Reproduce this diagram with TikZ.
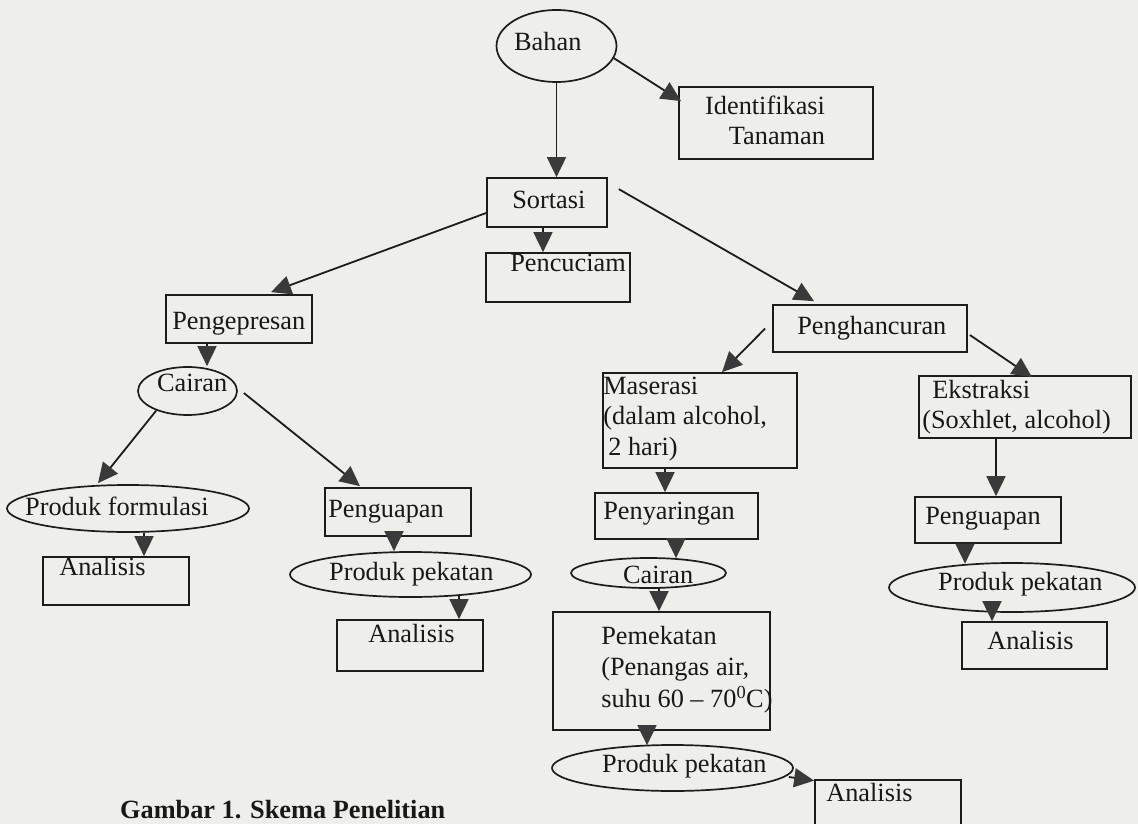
\documentclass[tikz,border=0pt]{standalone}
\usepackage{fontspec}
\setmainfont{Liberation Serif}
\usetikzlibrary{shapes.geometric,arrows.meta,calc}
\definecolor{bg}{RGB}{238,238,235}
\definecolor{linec}{RGB}{28,28,28}
\definecolor{txtc}{RGB}{24,24,24}
\definecolor{headc}{RGB}{58,58,58}
\newcommand\mf{\fontsize{26.3pt}{30.5pt}\selectfont}
\begin{document}
\begin{tikzpicture}[x=1pt,y=-1pt,
  bx/.style={draw=linec, line width=1.7pt, rectangle, inner sep=0pt},
  el/.style={draw=linec, line width=1.7pt, ellipse, inner sep=0pt},
  tx/.style={font=\mf, text=txtc, inner sep=0pt, anchor=base west},
  tl/.style args={#1/#2/#3}{label={[tx,xshift=#1pt,yshift={-(#2)*1pt}]north west:{#3}}},
  cl/.style args={#1/#2/#3}{label={[tx,xshift=#1pt,yshift={-(#2)*1pt}]south:{#3}}},
  arr/.style={draw=linec, line width=1.8pt, -{Triangle[length=20pt,width=19pt,color=headc]}}
]
\useasboundingbox (0,0) rectangle (1138,824);
\clip (0,0) rectangle (1138,824);
\fill[bg] (0,0) rectangle (1138,824);

% top
\node[el, minimum width=120pt, minimum height=72pt, cl={-42.5/-32/Bahan}] (bahan) at (556.5,46) {};
\node[bx, minimum width=194pt, minimum height=72pt,
  label={[tx,anchor=base east,xshift=147pt,yshift=-28pt]north west:{\parbox[t]{200pt}{\raggedleft Identifikasi\\Tanaman}}}] (ident) at (776,123) {};
\node[bx, minimum width=120pt, minimum height=49pt, tl={26/31/Sortasi}] (sortasi) at (547,202.5) {};
\node[bx, minimum width=144pt, minimum height=49pt, tl={25/19/Pencuciam}] (pencuciam) at (558,277.5) {};

% left branch
\node[bx, minimum width=146pt, minimum height=48pt, tl={7/35/Pengepresan}] (pengep) at (239,319) {};
\node[el, minimum width=99pt, minimum height=48pt, cl={-30.5/-24/Cairan}] (cairanA) at (187.5,391) {};
\node[el, minimum width=242pt, minimum height=47pt, cl={-103/-17/Produk formulasi}] (pf) at (128,508.5) {};
\node[bx, minimum width=146pt, minimum height=48pt, tl={17/19/Analisis}] (anal1) at (116,581) {};
\node[bx, minimum width=146pt, minimum height=48pt, tl={4/30/Penguapan}] (peng1) at (398,512) {};
\node[el, minimum width=241pt, minimum height=45pt, cl={-81.5/-17/Produk pekatan}] (pp1) at (410.5,574.5) {};
\node[bx, minimum width=146pt, minimum height=51pt, tl={32/23/Analisis}] (anal2) at (410,645.5) {};

% right branch
\node[bx, minimum width=194pt, minimum height=47pt, tl={25/30/Penghancuran}] (penghanc) at (870,328.5) {};
\node[bx, minimum width=194pt, minimum height=95pt,
  tl={1/22/{\parbox[t]{200pt}{\raggedright Maserasi\\(dalam alcohol,\\\hspace*{5pt}2 hari)}}}] (maserasi) at (700,420.5) {};
\node[bx, minimum width=163pt, minimum height=46pt, tl={9/27/Penyaringan}] (penyaring) at (676.5,516) {};
\node[el, minimum width=155pt, minimum height=30pt, cl={-25.5/-5/Cairan}] (cairanB) at (648.5,573) {};
\node[bx, minimum width=217pt, minimum height=118pt,
  tl={49/33/{\fontsize{26.3pt}{31.5pt}\selectfont\parbox[t]{240pt}{\raggedright Pemekatan\\(Penangas air,\\suhu 60 -- 70\textsuperscript{0}C)}}}] (pemek) at (661.5,671) {};
\node[el, minimum width=241pt, minimum height=46pt, cl={-70.5/-19/Produk pekatan}] (pp3) at (672.5,768) {};
\node[bx, minimum width=146pt, minimum height=50pt, tl={12/22/Analisis}] (anal3) at (888,805) {};

\node[bx, minimum width=212pt, minimum height=62pt,
  tl={4/23/{\parbox[t]{240pt}{\raggedright\hspace*{10pt}Ekstraksi\\(Soxhlet, alcohol)}}}] (ekstraksi) at (1025,407) {};
\node[bx, minimum width=146pt, minimum height=46pt, tl={11/28/Penguapan}] (peng2) at (988,520) {};
\node[el, minimum width=246pt, minimum height=49pt, cl={-74/-22/Produk pekatan}] (pp2) at (1012,587.5) {};
\node[bx, minimum width=145pt, minimum height=47pt, tl={26/28/Analisis}] (anal4) at (1034.5,645.5) {};

% caption
\node[font=\fontsize{26.3pt}{30pt}\selectfont\bfseries, text=txtc, inner sep=0pt, anchor=base west] (caption) at (120,818) {Gambar 1. Skema Penelitian};

% connectors
\draw[arr] (bahan.south) -- (bahan.south |- sortasi.north);
\draw[arr] (bahan.-12) -- ($(ident.north west)+(3,15)$);
\draw[arr] ($(sortasi.south)+(-4,0)$) -- ($(sortasi.south |- pencuciam.north)+(-4,0)$);
\draw[arr] ($(sortasi.west)+(0,10.5)$) -- ($(pengep.north)+(32,-2)$);
\draw[arr] ($(sortasi.north east)+(11,12)$) -- ($(penghanc.north)+(-56,-3)$);
\draw[arr] ($(pengep.south)+(-32,0)$) -- ($(cairanA.north)+(19.5,0)$);
\draw[arr] (cairanA.212) -- ($(pf.north)+(-30,-1)$);
\draw[arr] ($(cairanA.east)+(6,2)$) -- ($(peng1.north)+(-38,-1)$);
\draw[arr] ($(pf.south)+(16,0)$) -- ($(anal1.north)+(28,0)$);
\draw[arr] ($(peng1.south)+(-4,0)$) -- ($(pp1.north)+(-16.5,0)$);
\draw[arr] ($(pp1.south)+(48.5,-2)$) -- ($(anal2.north)+(49,0)$);
\draw[arr] ($(penghanc.west)+(-7,0)$) -- ($(maserasi.north)+(22,0)$);
\draw[arr] ($(penghanc.east)+(2,6.5)$) -- ($(ekstraksi.north)+(7,2)$);
\draw[arr] ($(maserasi.south)+(-35,0)$) -- ($(penyaring.north)+(-11.5,0)$);
\draw[arr] ($(penyaring.south)+(-0.5,0)$) -- ($(cairanB.north)+(27.5,1)$);
\draw[arr] ($(cairanB.south)+(10.5,-1)$) -- ($(pemek.north)+(-2.5,0)$);
\draw[arr] ($(pemek.south)+(-14.5,0)$) -- ($(pp3.north)+(-25.5,1)$);
\draw[arr] ($(pp3.east)+(-5,9)$) -- ($(anal3.north west)+(0,1.5)$);
\draw[arr] ($(ekstraksi.south)+(-29,0)$) -- ($(peng2.north)+(8,0)$);
\draw[arr] ($(peng2.south)+(-23,0)$) -- ($(pp2.north)+(-47,1.5)$);
\draw[arr] ($(pp2.south)+(-20,-0.5)$) -- ($(anal4.north)+(-42.5,0)$);
\end{tikzpicture}
\end{document}
